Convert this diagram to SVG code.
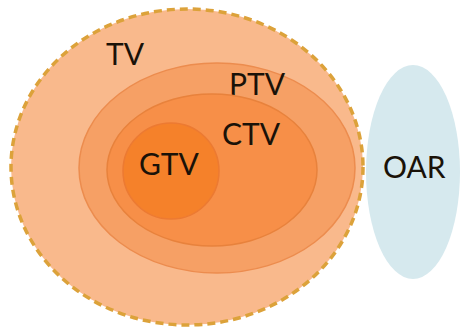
<svg xmlns="http://www.w3.org/2000/svg" width="461" height="329" viewBox="0 0 461 329">
<style>
.lbl{font-family:"Lato","Open Sans","Liberation Sans",sans-serif;font-size:30px;fill:#1a1208}
</style>
<rect width="461" height="329" fill="#ffffff"/>
<g id="TV">
<ellipse cx="187" cy="167" rx="176" ry="158" fill="#f9b98c" stroke="#dca23a" stroke-width="3.5" stroke-dasharray="8 5"/>
<text class="lbl" x="106" y="65">TV</text>
</g>
<g id="PTV">
<ellipse cx="217" cy="168" rx="138" ry="105" fill="#f6a065" stroke="#ec8c4e" stroke-width="1.5"/>
<text class="lbl" x="229" y="95">PTV</text>
</g>
<g id="CTV">
<ellipse cx="212" cy="170" rx="105" ry="76" fill="#f78f48" stroke="#e8823c" stroke-width="1.5"/>
<text class="lbl" x="222" y="145">CTV</text>
</g>
<g id="GTV">
<circle cx="171" cy="171" r="48" fill="#f5812a" stroke="#ec7a32" stroke-width="1.5"/>
<text class="lbl" x="139" y="175">GTV</text>
</g>
<g id="OAR">
<ellipse cx="413" cy="172" rx="47" ry="107" fill="#d6e9ee"/>
<text class="lbl" x="383" y="178">OAR</text>
</g>
<g id="connectors"/>
</svg>
